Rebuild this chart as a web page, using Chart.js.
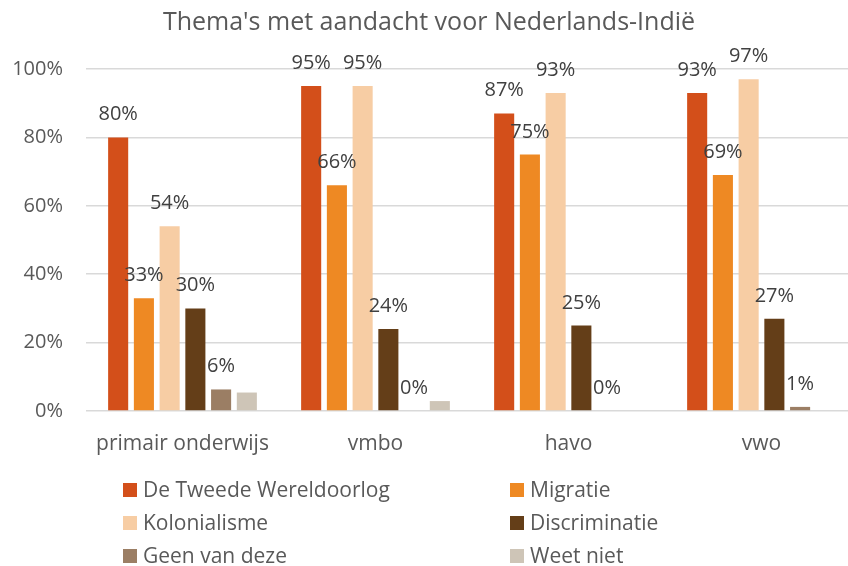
<!DOCTYPE html>
<html>
<head>
<meta charset="utf-8">
<script src="https://cdn.jsdelivr.net/npm/chart.js@4/dist/chart.umd.min.js"></script>
<style>
  html, body { margin: 0; padding: 0; background: #ffffff; overflow: hidden; width: 848px; height: 566px; }
  #wrap { position: relative; width: 874px; height: 566px; }
</style>
</head>
<body>
<div id="wrap"><canvas id="c" width="874" height="566"></canvas></div>
<script>
const TITLE = "Thema's met aandacht voor Nederlands-Indië";
const categories = ["primair onderwijs", "vmbo", "havo", "vwo"];
const seriesNames = ["De Tweede Wereldoorlog", "Migratie", "Kolonialisme", "Discriminatie", "Geen van deze", "Weet niet"];
const tweedeWereldoorlog = [80, 95, 87, 93];
const migratie = [33, 66, 75, 69];
const kolonialisme = [54, 95, 93, 97];
const discriminatie = [30, 24, 25, 27];
const geenVanDeze = [6.3, 0, 0, 1.2];
const weetNiet = [5.4, 2.9, 0, 0];
const yTicks = [0, 20, 40, 60, 80, 100];
const labeledSeries = [true, true, true, true, true, false];
const colors = ["#D34F1A", "#EE8923", "#F7CDA4", "#643E18", "#9B7E64", "#CEC5B7"];

const seriesValues = [tweedeWereldoorlog, migratie, kolonialisme, discriminatie, geenVanDeze, weetNiet];

const FONT = "'Open Sans', sans-serif";

const dataLabels = {
  id: 'dataLabels',
  afterDatasetsDraw(chart) {
    const ctx = chart.ctx;
    ctx.save();
    ctx.font = "20px " + FONT;
    ctx.fillStyle = "#404040";
    ctx.textAlign = "center";
    ctx.textBaseline = "alphabetic";
    chart.data.datasets.forEach((ds, i) => {
      if (!labeledSeries[i]) return;
      const meta = chart.getDatasetMeta(i);
      meta.data.forEach((bar, j) => {
        const v = ds.data[j];
        ctx.fillText(Math.round(v) + "%", bar.x, bar.y - 17);
      });
    });
    ctx.restore();
  }
};

const customLegend = {
  id: 'customLegend',
  afterDraw(chart) {
    const ctx = chart.ctx;
    ctx.save();
    ctx.font = "21px " + FONT;
    ctx.textBaseline = "middle";
    ctx.textAlign = "left";
    const colX = [123, 510];
    const rowY = [490, 523, 556];
    chart.data.datasets.forEach((ds, i) => {
      const x = colX[i % 2];
      const y = rowY[Math.floor(i / 2)];
      ctx.fillStyle = ds.backgroundColor;
      ctx.fillRect(x, y - 7, 14, 14);
      ctx.fillStyle = "#595959";
      ctx.fillText(ds.label, x + 20, y + 1);
    });
    ctx.restore();
  }
};

new Chart(document.getElementById('c'), {
  type: 'bar',
  data: {
    labels: categories,
    datasets: seriesNames.map((name, i) => ({
      label: name,
      data: seriesValues[i],
      backgroundColor: colors[i],
      borderWidth: 0,
      categoryPercentage: 0.8,
      barPercentage: 0.78
    }))
  },
  options: {
    responsive: false,
    animation: false,
    devicePixelRatio: 1,
    layout: { padding: { left: 0, right: 16, top: 0, bottom: 105 } },
    plugins: {
      legend: { display: false },
      tooltip: { enabled: false },
      title: {
        display: true,
        text: TITLE,
        color: "#595959",
        font: { family: FONT, size: 25, weight: 'normal' },
        padding: { top: 8, bottom: 31 }
      }
    },
    scales: {
      x: {
        grid: { display: false, drawTicks: false },
        border: { display: false },
        ticks: { color: "#595959", font: { family: FONT, size: 21 }, padding: 20, maxRotation: 0, autoSkip: false },
        afterFit(s) { s.height = 50; }
      },
      y: {
        min: 0, max: 100,
        afterBuildTicks(s) { s.ticks = yTicks.map(v => ({ value: v })); },
        grid: { color: "#D9D9D9", lineWidth: 1.5, drawTicks: false },
        border: { display: false },
        ticks: { color: "#595959", font: { family: FONT, size: 20 }, padding: 23, callback: v => v + "%" },
        afterFit(s) { s.width = 86; }
      }
    }
  },
  plugins: [dataLabels, customLegend]
});
</script>
</body>
</html>
